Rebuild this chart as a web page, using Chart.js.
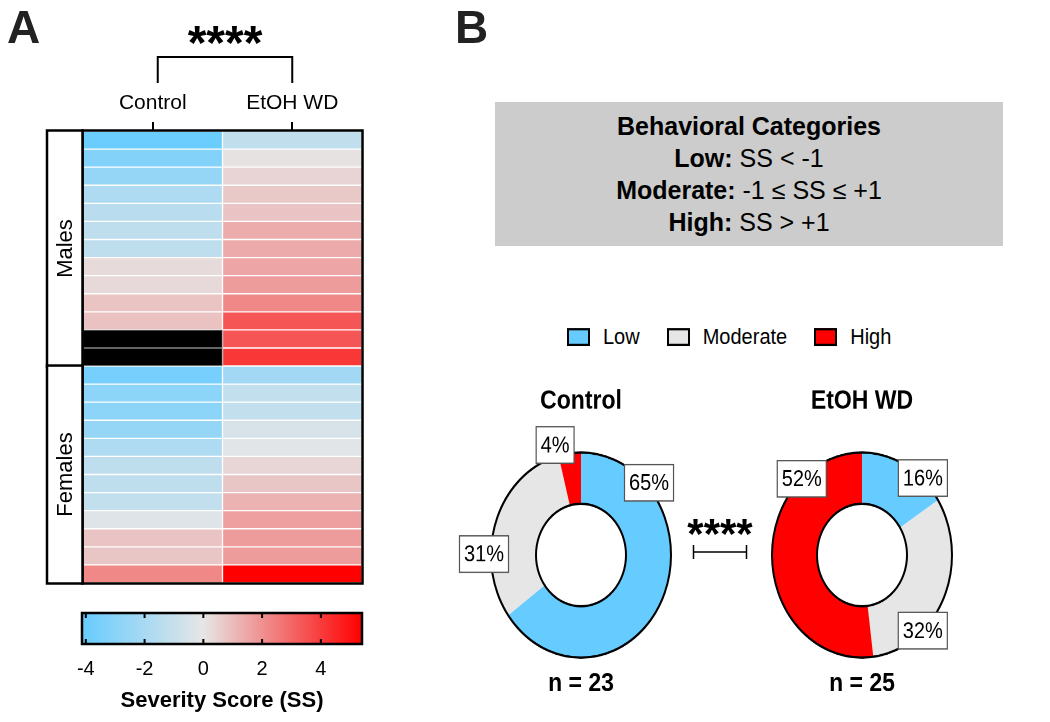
<!DOCTYPE html>
<html>
<head>
<meta charset="utf-8">
<script src="https://cdn.jsdelivr.net/npm/chart.js@4.4.1/dist/chart.umd.min.js"></script>
<style>
  html, body { margin: 0; padding: 0; background: #fff; }
  body { width: 1050px; height: 722px; position: relative; overflow: hidden;
         font-family: "Liberation Sans", Arial, sans-serif; color: #000; }
  canvas { position: absolute; }
  #catBox { position: absolute; left: 495px; top: 102px; width: 508px; height: 144px;
            background: #cccccc; text-align: center; font-size: 25px; line-height: 32px;
            box-sizing: border-box; padding-top: 8px; }
  #legend { position: absolute; left: 567px; top: 325px; display: flex; align-items: center;
            font-size: 20px; line-height: 23px; transform: scaleY(1.12); transform-origin: left center; }
  #legend .sw { display: inline-block; width: 23px; height: 16px; border: 2px solid #000; box-sizing: border-box; }
  #legend .lb { margin-left: 13px; margin-right: 27px; }
  svg { position: absolute; left: 0; top: 0; pointer-events: none; }
</style>
</head>
<body>
<canvas id="heat" width="400" height="600" style="left:0;top:0;width:400px;height:600px"></canvas>
<canvas id="cbar" width="400" height="122" style="left:0;top:600px;width:400px;height:122px"></canvas>
<canvas id="pieCtrl" width="260" height="287" style="left:451px;top:378.9px;width:260px;height:327.2px"></canvas>
<canvas id="pieEtoh" width="260" height="287" style="left:732px;top:378.9px;width:260px;height:327.2px"></canvas>

<div id="catBox">
  <b>Behavioral Categories</b><br>
  <b>Low:</b> SS &lt; -1<br>
  <b>Moderate:</b> -1 ≤ SS ≤ +1<br>
  <b>High:</b> SS &gt; +1
</div>
<div id="legend"></div>

<svg width="1050" height="722">
  <text x="7" y="43" font-family="Liberation Sans, Arial, sans-serif" font-weight="bold" font-size="46" fill="#222">A</text>
  <text x="455" y="43" font-family="Liberation Sans, Arial, sans-serif" font-weight="bold" font-size="46" fill="#222">B</text>
  <text x="720" y="548" text-anchor="middle" font-family="Liberation Sans, Arial, sans-serif" font-weight="bold" font-size="42" fill="#000">****</text>
  <path d="M693,552 H747 M693.5,545 V559 M746.5,545 V559" stroke="#000" stroke-width="1.5" fill="none"/>
</svg>

<script>
// ---- data ----
const conditions = ['Control', 'EtOH WD'];
const groups = ['Males', 'Females'];
const groupSizes = [13, 12];

// severity scores per animal, rows top to bottom (null = no animal)
const controlMales = [-4.0, -3.2, -2.6, -1.8, -1.45, -1.3, -1.3, 0.28, 0.3, 0.82, 0.85, null, null];
const controlFemales = [-3.6, -2.9, -2.9, -2.6, -1.8, -1.3, -1.3, -1.15, -0.25, 0.8, 0.75, 2.2];
const etohMales = [-1.2, 0.1, 0.42, 0.7, 0.8, 1.36, 1.4, 1.53, 1.76, 2.2, 3.4, 3.4, 4.1];
const etohFemales = [-2.2, -1.15, -1.15, -0.5, -0.15, 0.37, 0.75, 1.2, 1.64, 1.76, 1.76, 5.4];

const colorMin = -4.13;
const colorMax = 5.4;
const colorTicks = [-4, -2, 0, 2, 4];

const categories = ['Low', 'Moderate', 'High'];
const controlPct = [65, 31, 4];
const etohPct = [16, 32, 52];
const controlN = 23;
const etohN = 25;

// ---- colours ----
const lowRGB = [102, 204, 255];
const midRGB = [230, 230, 230];
const highRGB = [255, 0, 0];
const catColors = ['#66ccff', '#e6e6e6', '#ff0000'];
const FONT = '"Liberation Sans", Arial, sans-serif';

Chart.defaults.font.family = FONT;
Chart.defaults.color = '#000';

function mix(a, b, t) {
  return 'rgb(' + a.map((v, i) => Math.round(v + (b[i] - v) * t)).join(',') + ')';
}
function cellColor(v) {
  if (v === null) return '#000';
  if (v < 0) return mix(midRGB, lowRGB, Math.min(1, v / colorMin));
  return mix(midRGB, highRGB, Math.min(1, v / colorMax));
}

// ---- heatmap ----
const controlRows = controlMales.concat(controlFemales);
const etohRows = etohMales.concat(etohFemales);
const nRows = controlRows.length;

const heatDatasets = controlRows.map((c, i) => ({
  data: [[i, i + 1], [i, i + 1]],
  backgroundColor: [cellColor(c), cellColor(etohRows[i])],
  borderColor: [c === null ? 'rgba(60,60,60,0.6)' : 'rgba(255,255,255,0.07)', 'rgba(255,255,255,0.07)'],
  borderWidth: 1,
  borderSkipped: false,
  barPercentage: 1,
  categoryPercentage: 1,
  grouped: false
}));

const heatDecor = {
  id: 'heatDecor',
  afterDraw(chart) {
    const {ctx, chartArea: a, scales} = chart;
    ctx.save();
    ctx.strokeStyle = '#000';
    ctx.lineWidth = 2.5;
    ctx.strokeRect(a.left - 0.5, a.top - 0.5, a.width + 1, a.height + 1);

    // sex group boxes
    let start = 0;
    groups.forEach((g, gi) => {
      const y0 = scales.y.getPixelForValue(start);
      const y1 = scales.y.getPixelForValue(start + groupSizes[gi]);
      start += groupSizes[gi];
      const x0 = a.left - 36;
      ctx.fillStyle = '#fff';
      ctx.fillRect(x0, y0, 35, y1 - y0);
      ctx.strokeRect(x0, y0 - 0.5, 35.5, y1 - y0 + 1);
      ctx.save();
      ctx.translate(x0 + 18, (y0 + y1) / 2);
      ctx.rotate(-Math.PI / 2);
      ctx.fillStyle = '#000';
      ctx.font = '22px ' + FONT;
      ctx.textAlign = 'center';
      ctx.textBaseline = 'middle';
      ctx.fillText(g, 0, 1);
      ctx.restore();
    });

    // significance bracket
    const xl = scales.x.getPixelForValue(0) + 5;
    const xr = scales.x.getPixelForValue(1);
    ctx.lineWidth = 2;
    ctx.beginPath();
    ctx.moveTo(xl, 83); ctx.lineTo(xl, 57); ctx.lineTo(xr, 57); ctx.lineTo(xr, 83);
    ctx.stroke();
    ctx.fillStyle = '#000';
    ctx.font = 'bold 48px ' + FONT;
    ctx.textAlign = 'center';
    ctx.textBaseline = 'alphabetic';
    ctx.fillText('****', (xl + xr) / 2, 59);
    ctx.restore();
  }
};

new Chart(document.getElementById('heat'), {
  type: 'bar',
  data: { labels: conditions, datasets: heatDatasets },
  options: {
    responsive: false,
    animation: false,
    layout: { padding: { left: 83, right: 38, top: 71, bottom: 17 } },
    plugins: { legend: { display: false }, tooltip: { enabled: false } },
    scales: {
      x: {
        position: 'top',
        grid: { offset: false, drawOnChartArea: false, drawTicks: true, tickLength: 9, color: '#000', lineWidth: 2 },
        border: { display: false },
        ticks: { font: { size: 21 }, color: '#000', padding: 6 },
        afterFit(s) { s.height = 60; }
      },
      y: { type: 'linear', min: 0, max: nRows, reverse: true, display: false }
    }
  },
  plugins: [heatDecor]
});

// ---- colour bar ----
const cbarDecor = {
  id: 'cbarDecor',
  afterDatasetsDraw(chart) {
    const {ctx, chartArea: a, scales} = chart;
    ctx.save();
    ctx.strokeStyle = '#000';
    ctx.lineWidth = 2;
    colorTicks.forEach(v => {
      const px = scales.x.getPixelForValue(v);
      ctx.beginPath();
      ctx.moveTo(px, a.top); ctx.lineTo(px, a.top + 5);
      ctx.moveTo(px, a.bottom); ctx.lineTo(px, a.bottom - 5);
      ctx.stroke();
    });
    ctx.lineWidth = 2.5;
    ctx.strokeRect(a.left, a.top, a.width, a.height);
    ctx.restore();
  }
};

new Chart(document.getElementById('cbar'), {
  type: 'bar',
  data: {
    labels: ['SS'],
    datasets: [{
      data: [[colorMin, colorMax]],
      backgroundColor(c) {
        const {chart} = c;
        if (!chart.chartArea) return catColors[1];
        const x0 = chart.scales.x.getPixelForValue(colorMin);
        const x1 = chart.scales.x.getPixelForValue(colorMax);
        const g = chart.ctx.createLinearGradient(x0, 0, x1, 0);
        g.addColorStop(0, mix(lowRGB, lowRGB, 0));
        g.addColorStop((0 - colorMin) / (colorMax - colorMin), mix(midRGB, midRGB, 0));
        g.addColorStop(1, mix(highRGB, highRGB, 0));
        return g;
      },
      borderWidth: 0,
      barPercentage: 1,
      categoryPercentage: 1
    }]
  },
  options: {
    indexAxis: 'y',
    responsive: false,
    animation: false,
    layout: { padding: { left: 82, right: 38, top: 13, bottom: 0 } },
    plugins: { legend: { display: false }, tooltip: { enabled: false } },
    scales: {
      x: {
        type: 'linear',
        min: colorMin,
        max: colorMax,
        afterBuildTicks(s) { s.ticks = colorTicks.map(v => ({ value: v })); },
        grid: { display: false, drawTicks: false },
        border: { display: false },
        ticks: { font: { size: 20 }, color: '#000', padding: 13 },
        title: { display: true, text: 'Severity Score (SS)', font: { size: 22, weight: 'bold' }, color: '#000', padding: { top: 0, bottom: 8 } },
        afterFit(s) { s.height = 78; }
      },
      y: { display: false }
    }
  },
  plugins: [cbarDecor]
});

// ---- doughnuts ----
const donutDecor = {
  id: 'donutDecor',
  afterDatasetsDraw(chart, args, opts) {
    const arcs = chart.getDatasetMeta(0).data;
    if (!arcs.length) return;
    const {x: cx, y: cy, outerRadius, innerRadius} = arcs[0].getProps(['x', 'y', 'outerRadius', 'innerRadius'], true);
    const ctx = chart.ctx;
    ctx.save();
    ctx.strokeStyle = '#000';
    ctx.lineWidth = 2;
    ctx.beginPath(); ctx.arc(cx, cy, outerRadius, 0, Math.PI * 2); ctx.stroke();
    ctx.beginPath(); ctx.arc(cx, cy, innerRadius, 0, Math.PI * 2); ctx.stroke();

    ctx.font = '20px ' + FONT;
    ctx.textAlign = 'center';
    ctx.textBaseline = 'middle';
    chart.data.datasets[0].data.forEach((v, i) => {
      const ang = opts.angles[i] * Math.PI / 180;
      const r = outerRadius + opts.offsets[i];
      const x = cx + r * Math.sin(ang);
      const y = cy - r * Math.cos(ang);
      const txt = v + '%';
      const w = ctx.measureText(txt).width + 9;
      const h = 32;
      ctx.fillStyle = '#fff';
      ctx.fillRect(x - w / 2, y - h / 2, w, h);
      ctx.strokeStyle = '#555';
      ctx.lineWidth = 1.2;
      ctx.strokeRect(x - w / 2, y - h / 2, w, h);
      ctx.fillStyle = '#000';
      ctx.fillText(txt, x, y + 1);
    });
    ctx.restore();
  }
};

function donut(id, title, values, n, angles, offsets) {
  return new Chart(document.getElementById(id), {
    type: 'doughnut',
    data: {
      labels: categories,
      datasets: [{ data: values, backgroundColor: catColors, borderWidth: 0 }]
    },
    options: {
      responsive: false,
      animation: false,
      devicePixelRatio: 2,
      cutout: '50%',
      layout: { padding: { left: 40, right: 40, top: 8, bottom: 8 } },
      plugins: {
        legend: { display: false },
        tooltip: { enabled: false },
        title: { display: true, text: title, color: '#000', font: { size: 23, weight: 'bold', lineHeight: 1 }, padding: { top: 0, bottom: 33.5 } },
        subtitle: { display: true, position: 'bottom', text: 'n = ' + n, color: '#000', font: { size: 23, weight: 'bold', lineHeight: 1 }, padding: { top: 11.5, bottom: 0 } },
        donutDecor: { angles, offsets }
      }
    },
    plugins: [donutDecor]
  });
}

donut('pieCtrl', conditions[0], controlPct, controlN, [47, 270.5, 345], [3, 7, 10]);
donut('pieEtoh', conditions[1], etohPct, etohN, [42, 137.5, 318], [1, 0, 0]);

// ---- legend ----
const legend = document.getElementById('legend');
categories.forEach((c, i) => {
  const sw = document.createElement('span');
  sw.className = 'sw';
  sw.style.background = catColors[i];
  const lb = document.createElement('span');
  lb.className = 'lb';
  lb.textContent = c;
  legend.appendChild(sw);
  legend.appendChild(lb);
});
</script>
</body>
</html>
